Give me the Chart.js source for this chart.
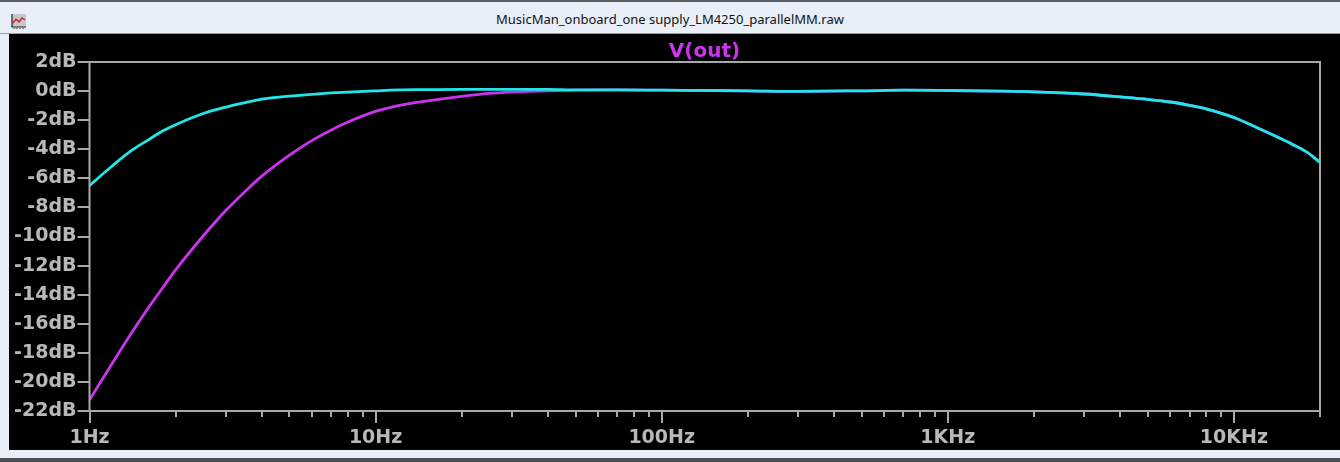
<!DOCTYPE html>
<html>
<head>
<meta charset="utf-8">
<script src="https://cdn.jsdelivr.net/npm/chart.js@4"></script>
<style>
  html,body{margin:0;padding:0;width:1340px;height:462px;overflow:hidden;background:#e9eff9;}
  #frame{position:absolute;left:0;top:0;width:1340px;height:462px;box-sizing:border-box;border-top:2px solid #5a5f66;}
  #titlebar{position:absolute;left:0;top:2px;width:1340px;height:31px;background:#e9eff9;border-bottom:1px solid #9aa0a8;}
  #title{position:absolute;left:0;width:1340px;top:8px;text-align:center;font:13px "Noto Sans",sans-serif;color:#111;}
  #icon{position:absolute;left:10px;top:12px;}
  #plot{position:absolute;left:9px;top:34px;width:1331px;height:416px;background:#000;}
  #c{position:absolute;left:0;top:0;}
  #trace{position:absolute;left:0;width:1331px;top:4px;text-align:center;font:bold 20px "DejaVu Sans",sans-serif;color:#cc33ee;padding-left:60px;box-sizing:border-box;}
  #bottom{position:absolute;left:0;top:458px;width:1340px;height:4px;background:#4a4f56;}
</style>
</head>
<body>
<div id="frame"></div>
<div id="titlebar">
  <svg id="icon" width="16" height="15" viewBox="0 0 16 15">
    <rect x="2" y="0" width="14" height="13" fill="#c8c8c8"/>
    <path d="M2 0 V13 H16" stroke="#222" stroke-width="1.2" fill="none"/>
    <path d="M3 9 L6 5 L9 8 L12 4 L15 6" stroke="#d0202a" stroke-width="1.4" fill="none"/>
    <path d="M4 14 V15 M7 14 V15 M10 14 V15 M13 14 V15" stroke="#222" stroke-width="1"/>
  </svg>
  <div id="title">MusicMan_onboard_one supply_LM4250_parallelMM.raw</div>
</div>
<div id="plot">
  <canvas id="c" width="1331" height="416"></canvas>
  <div id="trace">V(out)</div>
</div>
<div id="bottom"></div>
<script>
// frequencies in Hz
const freqs = [1,1.2,1.4,1.6,1.8,2,2.5,3,3.5,4,5,6,7,8,10,12,15,20,25,30,40,50,70,100,150,200,300,500,700,1000,1500,2000,3000,4000,5000,6000,7000,8000,9000,10000,12000,14000,16000,18000,20000];
// cyan trace (dB)
const cyanDb = [-6.5,-5.15,-4.1,-3.37,-2.75,-2.31,-1.54,-1.1,-0.8,-0.56,-0.35,-0.22,-0.13,-0.065,0.02,0.08,0.1,0.12,0.12,0.12,0.12,0.08,0.08,0.06,0.04,0.02,-0.02,0.02,0.06,0.04,0.0,-0.05,-0.2,-0.4,-0.57,-0.75,-0.98,-1.22,-1.52,-1.82,-2.5,-3.1,-3.65,-4.2,-4.9];
// magenta trace V(out) (dB)
const magentaDb = [-21.25,-18.73,-16.65,-14.95,-13.54,-12.3,-9.95,-8.2,-6.9,-5.85,-4.4,-3.39,-2.67,-2.13,-1.4,-1.0,-0.69,-0.36,-0.16,-0.07,0.02,0.06,0.08,0.06,0.04,0.02,-0.02,0.02,0.06,0.04,0.0,-0.05,-0.2,-0.4,-0.57,-0.75,-0.98,-1.22,-1.52,-1.82,-2.5,-3.1,-3.65,-4.2,-4.9];
// x tick positions and labels
const decades = [1,10,100,1000,10000];
const decadeLabels = ['1Hz','10Hz','100Hz','1KHz','10KHz'];
const yTicks = [2,0,-2,-4,-6,-8,-10,-12,-14,-16,-18,-20,-22];

const xTickVals = [];
decades.forEach(d => { for (let m = 1; m <= 9; m++) if (d*m <= 20000) xTickVals.push(d*m); });
xTickVals.push(20000);

const axisGrey = '#a8a8a8';
const labelGrey = '#b8b8b8';

// frame box and tick marks
const framePlugin = {
  id: 'frame',
  afterDraw(chart) {
    const {ctx, chartArea: a, scales: {x, y}} = chart;
    ctx.save();
    ctx.strokeStyle = axisGrey;
    ctx.lineWidth = 2;
    ctx.strokeRect(a.left, a.top, a.right - a.left, a.bottom - a.top);
    ctx.beginPath();
    yTicks.forEach(v => {
      const py = Math.round(y.getPixelForValue(v));
      ctx.moveTo(a.left - 12, py); ctx.lineTo(a.left, py);
    });
    xTickVals.forEach(v => {
      const px = Math.round(x.getPixelForValue(v));
      const major = decades.includes(v);
      ctx.moveTo(px, a.bottom); ctx.lineTo(px, a.bottom + (major ? 12 : 6));
    });
    ctx.stroke();
    ctx.restore();
  }
};

new Chart(document.getElementById('c'), {
  type: 'line',
  data: {
    datasets: [
      {label: 'cyan', data: freqs.map((f,i) => ({x: f, y: cyanDb[i]})), borderColor: '#1fe6e8', borderWidth: 2.8, pointRadius: 0, cubicInterpolationMode: 'monotone'},
      {label: 'V(out)', data: freqs.map((f,i) => ({x: f, y: magentaDb[i]})), borderColor: '#cc33ee', borderWidth: 2.8, pointRadius: 0, cubicInterpolationMode: 'monotone'}
    ]
  },
  options: {
    responsive: false, animation: false, devicePixelRatio: 1,
    layout: {padding: {left: 0, right: 20, top: 28, bottom: 0}},
    plugins: {legend: {display: false}, tooltip: {enabled: false}},
    scales: {
      x: {
        type: 'logarithmic', min: 1, max: 20000,
        afterBuildTicks: s => { s.ticks = xTickVals.map(v => ({value: v})); },
        afterFit: s => { s.height = 39; },
        border: {display: false},
        grid: {display: false, drawTicks: false},
        ticks: {
          autoSkip: false, maxRotation: 0, padding: 16, color: labelGrey,
          font: {family: 'DejaVu Sans', weight: 'bold', size: 19},
          callback: v => { const i = decades.indexOf(v); return i >= 0 ? decadeLabels[i] : ''; }
        }
      },
      y: {
        min: -22, max: 2,
        afterBuildTicks: s => { s.ticks = yTicks.map(v => ({value: v})); },
        afterFit: s => { s.width = 80.5; },
        border: {display: false},
        grid: {display: false, drawTicks: false},
        ticks: {
          autoSkip: false, padding: 13, color: labelGrey,
          font: {family: 'DejaVu Sans', weight: 'bold', size: 19},
          callback: v => v + 'dB'
        }
      }
    }
  },
  plugins: [framePlugin]
});
</script>
</body>
</html>
